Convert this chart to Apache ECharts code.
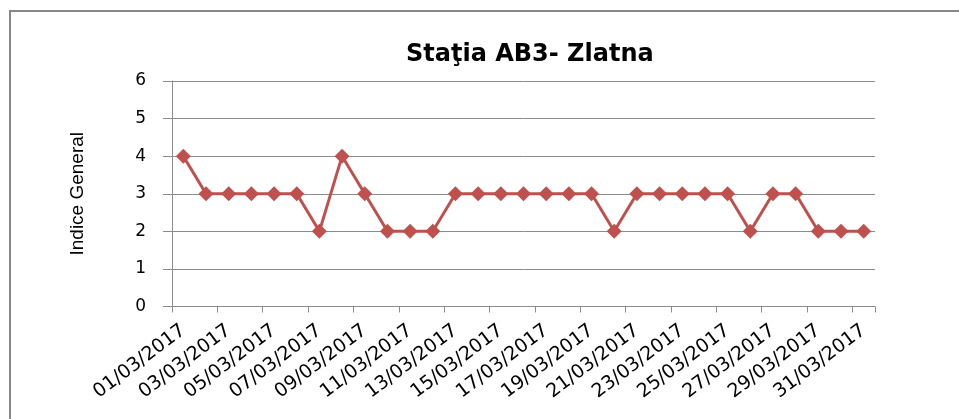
<!DOCTYPE html>
<html>
<head>
<meta charset="utf-8">
<script src="https://cdn.jsdelivr.net/npm/echarts@6/dist/echarts.min.js"></script>
<style>
  html, body { margin: 0; padding: 0; background: #fff; }
  #chart { width: 959px; height: 419px; }
</style>
</head>
<body>
<div id="chart"></div>
<script>
// Dates in March 2017
const days = [
  '01/03/2017', '02/03/2017', '03/03/2017', '04/03/2017', '05/03/2017', '06/03/2017',
  '07/03/2017', '08/03/2017', '09/03/2017', '10/03/2017', '11/03/2017', '12/03/2017',
  '13/03/2017', '14/03/2017', '15/03/2017', '16/03/2017', '17/03/2017', '18/03/2017',
  '19/03/2017', '20/03/2017', '21/03/2017', '22/03/2017', '23/03/2017', '24/03/2017',
  '25/03/2017', '26/03/2017', '27/03/2017', '28/03/2017', '29/03/2017', '30/03/2017',
  '31/03/2017'
];

// Indice General per day
const indice = [
  4, 3, 3, 3, 3, 3, 2, 4, 3, 2, 2, 2, 3, 3, 3, 3,
  3, 3, 3, 2, 3, 3, 3, 3, 3, 2, 3, 3, 2, 2, 2
];

const yTicks = [0, 1, 2, 3, 4, 5, 6];

const gridColor = '#8c8c8c';
const lineColor = '#C0504D';

const chart = echarts.init(document.getElementById('chart'));

const option = {
  backgroundColor: '#ffffff',
  animation: false,
  title: {
    text: 'Staţia AB3- Zlatna',
    left: 401,
    top: 38,
    textStyle: {
      fontFamily: 'DejaVu Sans',
      fontWeight: 'bold',
      fontSize: 24,
      color: '#000'
    }
  },
  graphic: [{
    type: 'rect',
    shape: { x: 10, y: 11, width: 1000, height: 500 },
    style: { fill: 'none', stroke: '#878787', lineWidth: 2 },
    silent: true
  }],
  grid: {
    left: 172,
    right: 84,
    top: 81,
    bottom: 112.5
  },
  xAxis: {
    type: 'category',
    data: days,
    boundaryGap: true,
    axisLine: { lineStyle: { color: gridColor, width: 1 } },
    // ticks on every second day boundary
    axisTick: {
      show: true,
      interval: 1,
      length: 6,
      lineStyle: { color: gridColor }
    },
    axisLabel: {
      interval: 1,
      rotate: 37,
      margin: 22,
      fontFamily: 'DejaVu Sans',
      fontSize: 19,
      color: '#000'
    },
    splitLine: { show: false }
  },
  yAxis: {
    type: 'value',
    min: yTicks[0],
    max: yTicks[yTicks.length - 1],
    interval: 1,
    name: 'Indice General',
    nameLocation: 'middle',
    nameRotate: 90,
    nameGap: 85,
    nameTextStyle: {
      fontFamily: 'Liberation Sans',
      fontSize: 19,
      color: '#000'
    },
    axisLine: { show: true, lineStyle: { color: gridColor, width: 1 } },
    axisTick: { show: true, length: 9, lineStyle: { color: gridColor } },
    axisLabel: {
      margin: 26,
      fontFamily: 'DejaVu Sans',
      fontSize: 17,
      color: '#000'
    },
    splitLine: { show: true, lineStyle: { color: gridColor, width: 1 } }
  },
  series: [{
    name: 'Indice General',
    type: 'line',
    data: indice,
    symbol: 'diamond',
    symbolSize: 15,
    showAllSymbol: true,
    lineStyle: { color: lineColor, width: 3 },
    itemStyle: { color: lineColor }
  }]
};

chart.setOption(option);
</script>
</body>
</html>
